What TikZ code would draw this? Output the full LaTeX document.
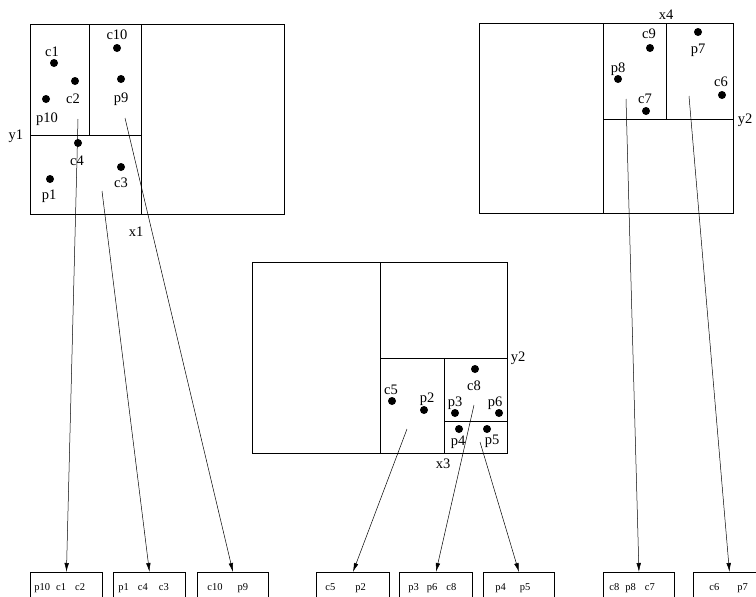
\documentclass[tikz,border=0pt]{standalone}
\usepackage{fontspec}
\setmainfont{Liberation Serif}
\usetikzlibrary{arrows.meta}
\newcommand{\drawDot}[2]{
    \fill[black] (#1,#2) circle (4pt);
}
\begin{document}
\begin{tikzpicture}[x=1pt,y=-1pt,
    lbl/.style={font=\fontsize{14.5}{16}\selectfont, inner sep=0pt},
    grid/.style={line width=0.9pt},
    bucket/.style={draw, line width=0.9pt, anchor=north west, inner sep=0pt,
        minimum height=32pt, font=\fontsize{10.5}{12}\selectfont},
    ptr/.style={-{Latex[length=9pt,width=4.5pt]}, line width=0.5pt}]
\useasboundingbox (0,0) rectangle (756,597);
\clip (0,0) rectangle (756,597);

% top left region
\draw[grid] (30,24) rectangle (284,214);
\draw[grid] (141,24) -- (141,214);
\draw[grid] (30,135) -- (141,135);
\draw[grid] (89,24) -- (89,135);
\drawDot{54}{63}
\drawDot{75}{81}
\drawDot{46}{99}
\drawDot{117}{48}
\drawDot{121}{79}
\drawDot{78}{143}
\drawDot{121}{167}
\drawDot{50}{179}
\node[lbl] (lc1) at (52,52) {c1};
\node[lbl] (lc2) at (73,99) {c2};
\node[lbl] (lp10) at (47,119) {p10};
\node[lbl] (lc10) at (117,35) {c10};
\node[lbl] (lp9) at (121,99) {p9};
\node[lbl] (lc4) at (77,161) {c4};
\node[lbl] (lc3) at (121,183) {c3};
\node[lbl] (lp1) at (49,196) {p1};
\node[lbl] (ly1) at (16,136) {y1};
\node[lbl] (lx1) at (136,232) {x1};

% top right region
\draw[grid] (479,23) rectangle (733,213);
\draw[grid] (603,23) -- (603,213);
\draw[grid] (603,119) -- (733,119);
\draw[grid] (666,23) -- (666,119);
\drawDot{650}{48}
\drawDot{698}{32}
\drawDot{618}{79}
\drawDot{646}{111}
\drawDot{722}{95}
\node[lbl] (lx4) at (666,15) {x4};
\node[lbl] (lc9) at (649,34) {c9};
\node[lbl] (lp7) at (698,50) {p7};
\node[lbl] (lp8) at (618,69) {p8};
\node[lbl] (lc7) at (645,99) {c7};
\node[lbl] (lc6) at (721,82) {c6};
\node[lbl] (ly2a) at (745,120) {y2};

% middle region
\draw[grid] (252,262) rectangle (507,453);
\draw[grid] (380,262) -- (380,453);
\draw[grid] (380,358) -- (507,358);
\draw[grid] (444,358) -- (444,453);
\draw[grid] (444,421) -- (507,421);
\drawDot{392}{401}
\drawDot{424}{410}
\drawDot{475}{369}
\drawDot{455}{413}
\drawDot{499}{413}
\drawDot{459}{429}
\drawDot{487}{429}
\node[lbl] (lc5) at (391,390) {c5};
\node[lbl] (lp2) at (427,399) {p2};
\node[lbl] (lc8) at (474,386) {c8};
\node[lbl] (lp3) at (455,403) {p3};
\node[lbl] (lp6) at (495,403) {p6};
\node[lbl] (lp4) at (458,442) {p4};
\node[lbl] (lp5) at (492,441) {p5};
\node[lbl] (ly2b) at (518,358) {y2};
\node[lbl] (lx3) at (443,464) {x3};

% buckets
\node[bucket] (b1) at (30,572) {\makebox[72pt][l]{\hspace{4pt}p10\hspace{6pt}c1\hspace{9pt}c2}};
\node[bucket] (b2) at (113,572) {\makebox[72pt][l]{\hspace{5pt}p1\hspace{9pt}c4\hspace{11pt}c3}};
\node[bucket] (b3) at (197,572) {\makebox[71pt][l]{\hspace{10pt}c10\hspace{15pt}p9}};
\node[bucket] (b4) at (316,572) {\makebox[73pt][l]{\hspace{9pt}c5\hspace{20pt}p2}};
\node[bucket] (b5) at (399,572) {\makebox[73pt][l]{\hspace{9pt}p3\hspace{8pt}p6\hspace{9pt}c8}};
\node[bucket] (b6) at (483,572) {\makebox[71pt][l]{\hspace{12pt}p4\hspace{14pt}p5}};
\node[bucket] (b7) at (603,572) {\makebox[71pt][l]{\hspace{6pt}c8\hspace{6pt}p8\hspace{9pt}c7}};
\node[bucket] (b8) at (693,572) {\makebox[72pt][l]{\hspace{16pt}c6\hspace{18pt}p7}};

% pointers
\coordinate (s1) at (78,119);
\coordinate (s2) at (102,191);
\coordinate (s3) at (125,118);
\coordinate (s4) at (407,429);
\coordinate (s5) at (474,405);
\coordinate (s6) at (480,442);
\coordinate (s7) at (626,99);
\coordinate (s8) at (689,96);
\draw[ptr] (s1) -- (b1.north);
\draw[ptr] (s2) -- (b2.north);
\draw[ptr] (s3) -- (b3.north);
\draw[ptr] (s4) -- (b4.north);
\draw[ptr] (s5) -- (b5.north);
\draw[ptr] (s6) -- (b6.north);
\draw[ptr] (s7) -- (b7.north);
\draw[ptr] (s8) -- (b8.north);
\end{tikzpicture}
\end{document}
